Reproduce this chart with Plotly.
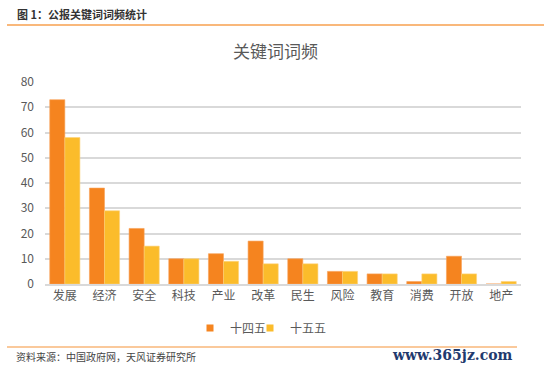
import plotly.graph_objects as go

categories = ["发展", "经济", "安全", "科技", "产业", "改革", "民生", "风险", "教育", "消费", "开放", "地产"]
s14 = [73, 38, 22, 10, 12, 17, 10, 5, 4, 1, 11, 0]
s15 = [58, 29, 15, 10, 9, 8, 8, 5, 4, 4, 4, 1]
y_ticks = [0, 10, 20, 30, 40, 50, 60, 70, 80]

FONT = "Noto Sans CJK SC"
ORANGE = "#F5841F"
YELLOW = "#FBBC2B"

fig = go.Figure()
fig.add_trace(go.Bar(x=categories, y=s14, name="十四五", showlegend=False,
                     marker=dict(color=ORANGE, line=dict(color="#F9A35A", width=0.6))))
fig.add_trace(go.Bar(x=categories, y=s15, name="十五五", showlegend=False,
                     marker=dict(color=YELLOW, line=dict(color="#FDD27A", width=0.6))))
# legend entries with small square symbols
fig.add_trace(go.Scatter(x=[None], y=[None], mode="markers", name="十四五", legend="legend",
                         marker=dict(symbol="square", size=7, color=ORANGE)))
fig.add_trace(go.Scatter(x=[None], y=[None], mode="markers", name="十五五", legend="legend2",
                         marker=dict(symbol="square", size=7, color=YELLOW)))

PH = 202.0
PW = 476.0

leg_common = dict(orientation="h", xref="container", yref="container", xanchor="left",
                  y=1 - 328 / 369, yanchor="middle", font=dict(size=12, color="#595959"),
                  itemwidth=30, bgcolor="rgba(0,0,0,0)", borderwidth=0)

fig.update_layout(
    width=550, height=369,
    paper_bgcolor="white", plot_bgcolor="white",
    margin=dict(l=45, r=29, t=82, b=85, autoexpand=False),
    barmode="group", bargap=0.24, bargroupgap=0,
    font=dict(family=FONT, color="#595959", size=11),
    showlegend=True,
    legend=dict(x=(230 - 40) / 550, **leg_common),
    legend2=dict(x=(290 - 40) / 550, **leg_common),
    xaxis=dict(showgrid=False, showline=True, linecolor="#D9D9D9", linewidth=1.5, automargin=False,
               ticks="", tickfont=dict(size=12, color="#595959")),
    yaxis=dict(range=[0, 80], tickvals=y_ticks, showgrid=True, gridcolor="#D9D9D9", gridwidth=1.5,
               zeroline=False, showline=False, ticks="", ticklabelstandoff=10, automargin=False,
               tickfont=dict(size=12, color="#595959")),
    shapes=[
        dict(type="line", xref="paper", yref="paper", x0=-38 / PW, x1=499 / PW,
             y0=(284 - 25) / PH, y1=(284 - 25) / PH, line=dict(color="#F7A04F", width=1.5)),
        dict(type="line", xref="paper", yref="paper", x0=-38 / PW, x1=472 / PW,
             y0=(284 - 347) / PH, y1=(284 - 347) / PH, line=dict(color="#F9B77A", width=1.5)),
    ],
    annotations=[
        dict(text="图 1：公报关键词词频统计", xref="paper", yref="paper", x=-30 / PW, y=(284 - 14) / PH,
             xanchor="left", yanchor="middle", showarrow=False,
             font=dict(family=FONT, size=11, color="#333333", weight="bold")),
        dict(text="关键词词频", xref="paper", yref="paper", x=0.485, y=(284 - 50) / PH,
             xanchor="center", yanchor="middle", showarrow=False,
             font=dict(family=FONT, size=17, color="#595959")),
        dict(text="资料来源：中国政府网，天风证券研究所", xref="paper", yref="paper", x=-31 / PW, y=(284 - 356) / PH,
             xanchor="left", yanchor="middle", showarrow=False,
             font=dict(family=FONT, size=10, color="#444444")),
        dict(text="<b>www.365jz.com</b>", xref="paper", yref="paper", x=470 / PW, y=(284 - 355) / PH,
             xanchor="right", yanchor="middle", showarrow=False,
             font=dict(family="DejaVu Serif", size=14, color="#1F3A6E")),
    ],
)

fig.write_html("out.html", config={"displayModeBar": False},
               post_script="document.body.style.margin='0';document.body.style.overflow='hidden';")
